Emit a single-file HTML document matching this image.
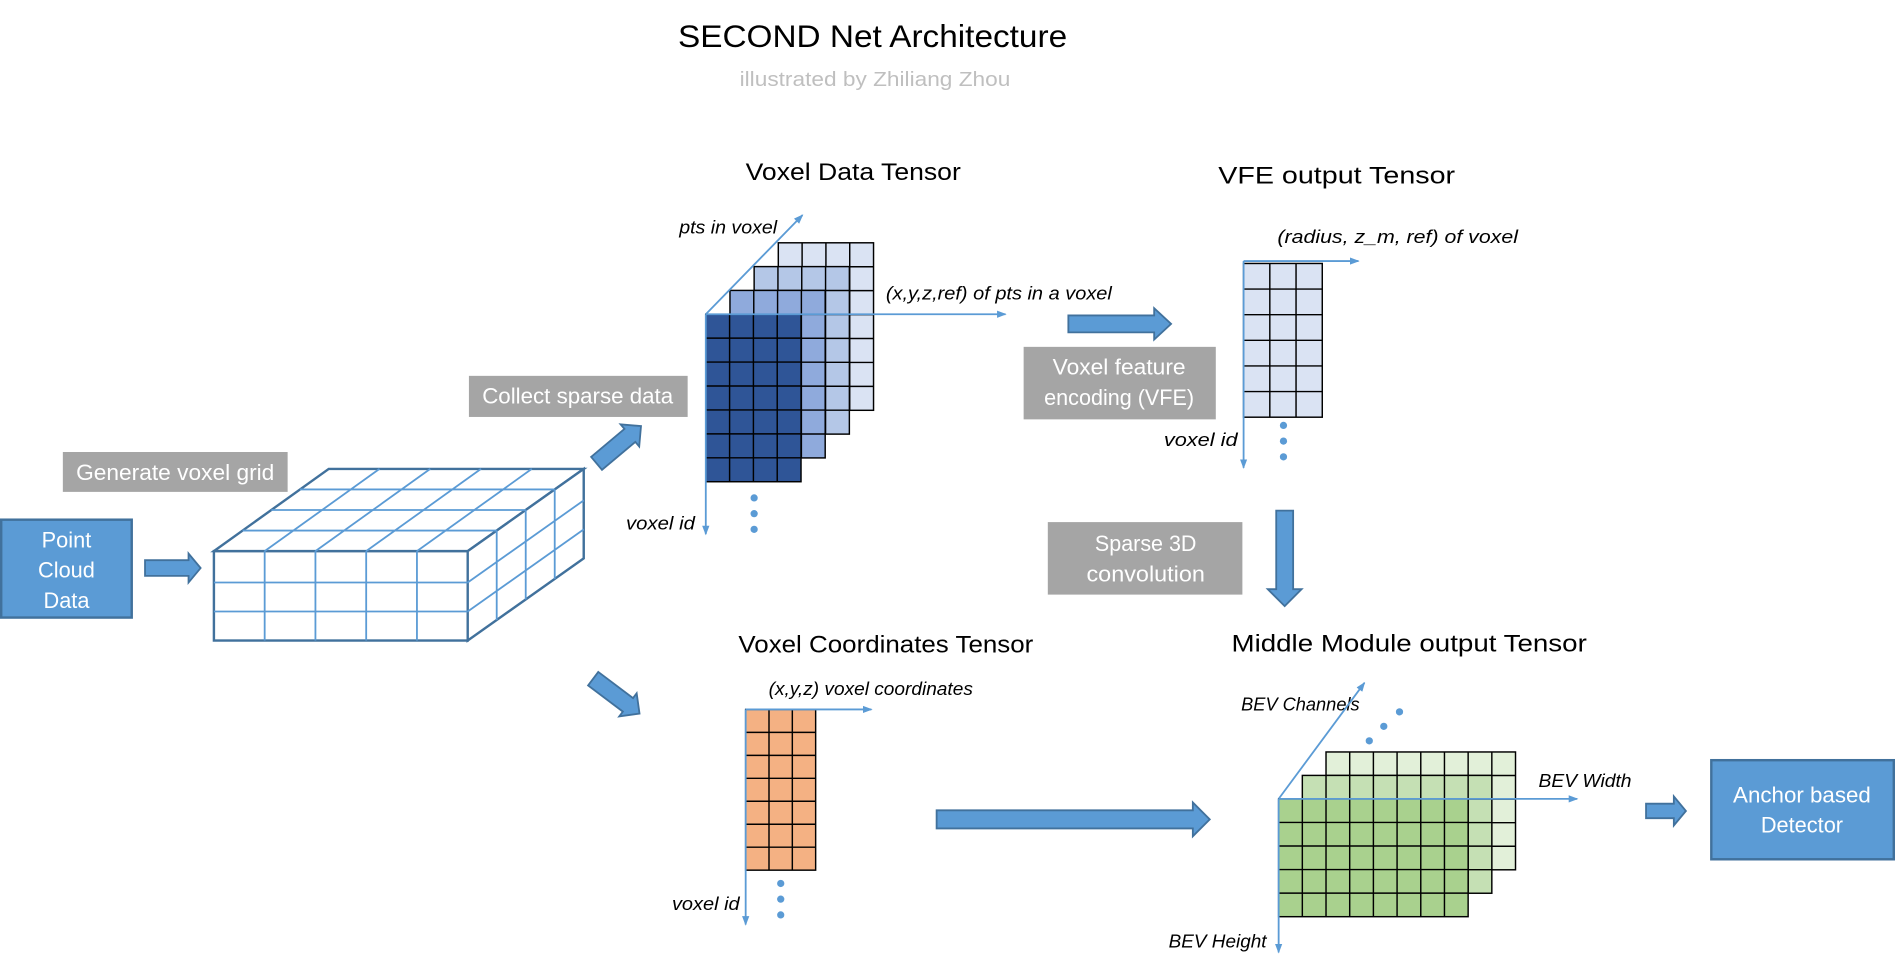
<!DOCTYPE html>
<html><head><meta charset="utf-8"><style>
html,body{margin:0;padding:0;background:#fff;}
svg{display:block;}
text{font-family:"Liberation Sans",sans-serif;}
</style></head><body>
<svg id="s" width="1895" height="966" viewBox="0 0 1568 799.3" preserveAspectRatio="none" xmlns="http://www.w3.org/2000/svg">
<defs>
<marker id="ah" markerWidth="8" markerHeight="8" refX="7" refY="4" orient="auto" markerUnits="userSpaceOnUse"><path d="M0,1 L8,4 L0,7 Z" fill="#5b9bd5"/></marker>
</defs>
<text x="722" y="39" font-size="26" text-anchor="middle" textLength="322" lengthAdjust="spacingAndGlyphs">SECOND Net Architecture</text>
<text x="724" y="71" font-size="17" fill="#bfbfbf" text-anchor="middle" textLength="224" lengthAdjust="spacingAndGlyphs">illustrated by Zhiliang Zhou</text>

<!-- point cloud -->
<rect x="1" y="430" width="108" height="81" fill="#5b9bd5" stroke="#41719c" stroke-width="2"/>
<g fill="#fff" font-size="18" text-anchor="middle">
<text x="55" y="453">Point</text><text x="55" y="478">Cloud</text><text x="55" y="503">Data</text></g>
<rect x="52" y="374" width="186" height="33" fill="#a5a5a5"/>
<text x="145" y="397" fill="#fff" font-size="18" text-anchor="middle" textLength="164" lengthAdjust="spacingAndGlyphs">Generate voxel grid</text>
<rect x="388" y="311" width="181" height="34" fill="#a5a5a5"/>
<text x="478" y="334" fill="#fff" font-size="18" text-anchor="middle" textLength="158" lengthAdjust="spacingAndGlyphs">Collect sparse data</text>
<rect x="847" y="287" width="159" height="60" fill="#a5a5a5"/>
<g fill="#fff" font-size="18" text-anchor="middle"><text x="926" y="310" textLength="110" lengthAdjust="spacingAndGlyphs">Voxel feature</text><text x="926" y="335" textLength="124" lengthAdjust="spacingAndGlyphs">encoding (VFE)</text></g>
<rect x="867" y="432" width="161" height="60" fill="#a5a5a5"/>
<g fill="#fff" font-size="18" text-anchor="middle"><text x="948" y="456" textLength="84" lengthAdjust="spacingAndGlyphs">Sparse 3D</text><text x="948" y="481" textLength="98" lengthAdjust="spacingAndGlyphs">convolution</text></g>
<rect x="1416" y="629" width="151" height="82" fill="#5b9bd5" stroke="#41719c" stroke-width="2"/>
<g fill="#fff" font-size="18" text-anchor="middle"><text x="1491" y="664" textLength="114" lengthAdjust="spacingAndGlyphs">Anchor based</text><text x="1491" y="689">Detector</text></g>

<g font-size="20" text-anchor="middle">
<text x="706" y="149" textLength="178" lengthAdjust="spacingAndGlyphs">Voxel Data Tensor</text>
<text x="1106" y="152" textLength="196" lengthAdjust="spacingAndGlyphs">VFE output Tensor</text>
<text x="733" y="540" textLength="244" lengthAdjust="spacingAndGlyphs">Voxel Coordinates Tensor</text>
<text x="1166" y="539" textLength="294" lengthAdjust="spacingAndGlyphs">Middle Module output Tensor</text>
</g>
<g font-size="15" font-style="italic">
<text x="562" y="193" textLength="81" lengthAdjust="spacingAndGlyphs">pts in voxel</text>
<text x="733" y="248" textLength="187" lengthAdjust="spacingAndGlyphs">(x,y,z,ref)  of pts in a voxel</text>
<text x="518" y="438" textLength="57" lengthAdjust="spacingAndGlyphs">voxel id</text>
<text x="1057" y="201" textLength="199" lengthAdjust="spacingAndGlyphs">(radius, z_m, ref) of voxel</text>
<text x="963" y="369" textLength="61" lengthAdjust="spacingAndGlyphs">voxel id</text>
<text x="636" y="575" textLength="169" lengthAdjust="spacingAndGlyphs">(x,y,z) voxel coordinates</text>
<text x="556" y="753" textLength="56" lengthAdjust="spacingAndGlyphs">voxel id</text>
<text x="1027" y="588" textLength="98" lengthAdjust="spacingAndGlyphs">BEV Channels</text>
<text x="1273" y="651" textLength="77" lengthAdjust="spacingAndGlyphs">BEV Width</text>
<text x="967" y="784" textLength="81" lengthAdjust="spacingAndGlyphs">BEV Height</text>
</g>
<g id="dyn"></g>
</svg>
<script>
var NS="http://www.w3.org/2000/svg",g=document.getElementById("dyn");
function el(t,a){var e=document.createElementNS(NS,t);for(var k in a)e.setAttribute(k,a[k]);g.appendChild(e);return e;}
function grid(x,y,c,r,w,h,fill){el("rect",{x:x,y:y,width:c*w,height:r*h,fill:fill,stroke:"#000","stroke-width":1.2});
for(var i=1;i<c;i++)el("line",{x1:x+i*w,y1:y,x2:x+i*w,y2:y+r*h,stroke:"#000","stroke-width":1.2});
for(var j=1;j<r;j++)el("line",{x1:x,y1:y+j*h,x2:x+c*w,y2:y+j*h,stroke:"#000","stroke-width":1.2});}
function axis(x1,y1,x2,y2){el("line",{x1:x1,y1:y1,x2:x2,y2:y2,stroke:"#5b9bd5","stroke-width":1.5,"marker-end":"url(#ah)"});}
function dot(x,y){el("circle",{cx:x,cy:y,r:3,fill:"#5b9bd5"});}
function barrow(x1,x2,cy,hs,hh,hl,rot,rx,ry){var p=[[x1,cy-hs],[x2-hl,cy-hs],[x2-hl,cy-hh],[x2,cy],[x2-hl,cy+hh],[x2-hl,cy+hs],[x1,cy+hs]];
var a={points:p.map(function(q){return q.join(",")}).join(" "),fill:"#5b9bd5",stroke:"#41719c","stroke-width":1.5};
if(rot)a.transform="rotate("+rot+" "+rx+" "+ry+")";el("polygon",a);}
// voxel data tensor
var cols=["#dae3f3","#b4c7e7","#8faadc","#2f5597"];
for(var L=3;L>=0;L--){grid(584+20*L,260-19.7*L,4,7,19.7,19.8,cols[3-L]);}
axis(584,260,832,260);axis(584,260,584,442);axis(584,260,664,178);
dot(624,412);dot(624,425);dot(624,438);
// VFE output
grid(1029,218,3,6,21.7,21.2,"#dae3f3");
axis(1029,216,1124,216);axis(1029,216,1029,387);
dot(1062,352);dot(1062,365);dot(1062,378);
// voxel coords
grid(617,587,3,7,19.3,19,"#f4b183");
axis(617,587,721,587);axis(617,587,617,765);
dot(646,731);dot(646,744);dot(646,757);
// middle module
var gc=["#e2f0d9","#c5e0b4","#a9d18e"];
for(var L=2;L>=0;L--){grid(1058+19.6*L,661-19.4*L,8,5,19.6,19.5,gc[2-L]);}
axis(1058,661,1305,661);axis(1058,661,1058,788);axis(1058,661,1129,565);
dot(1133,613);dot(1145,601);dot(1158,589);
// cuboid
var B="#2e75b6",LB="#5b9bd5";
function ln(a,b,c,d,col,w){el("line",{x1:a,y1:b,x2:c,y2:d,stroke:col||LB,"stroke-width":w||1.5});}
el("rect",{x:177,y:456,width:210,height:74,fill:"#fff",stroke:"#41719c","stroke-width":2});
el("polygon",{points:"177,456 272,388 483,388 387,456",fill:"#fff",stroke:"#41719c","stroke-width":2});
el("polygon",{points:"387,456 483,388 483,462 387,530",fill:"#fff",stroke:"#41719c","stroke-width":2});
for(var i=1;i<5;i++){var fx=177+42*i;ln(fx,456,fx,530);ln(fx,456,fx+95,388);}
for(var j=1;j<4;j++){var t=j/4;ln(177+95*t,456-68*t,387+96*t,456-68*t);ln(387+96*t,456-68*t,387+96*t,530-68*t);}
ln(177,482,387,482);ln(177,506,387,506);ln(387,482,483,414);ln(387,506,483,438);
// block arrows
barrow(120,166,470,6.5,12,10);
barrow(884,969,268,7,13,14);
barrow(775,1001,678,7.5,14,14);
barrow(1362,1395,671,6,12,10);
barrow(1063-39.5,1063+39.5,462,7,14,14,90,1063,462);
barrow(488,536,368,7,12,12,-40,512,368);
barrow(486,534,576,7,12,12,37,510,576);
</script>
</body></html>
